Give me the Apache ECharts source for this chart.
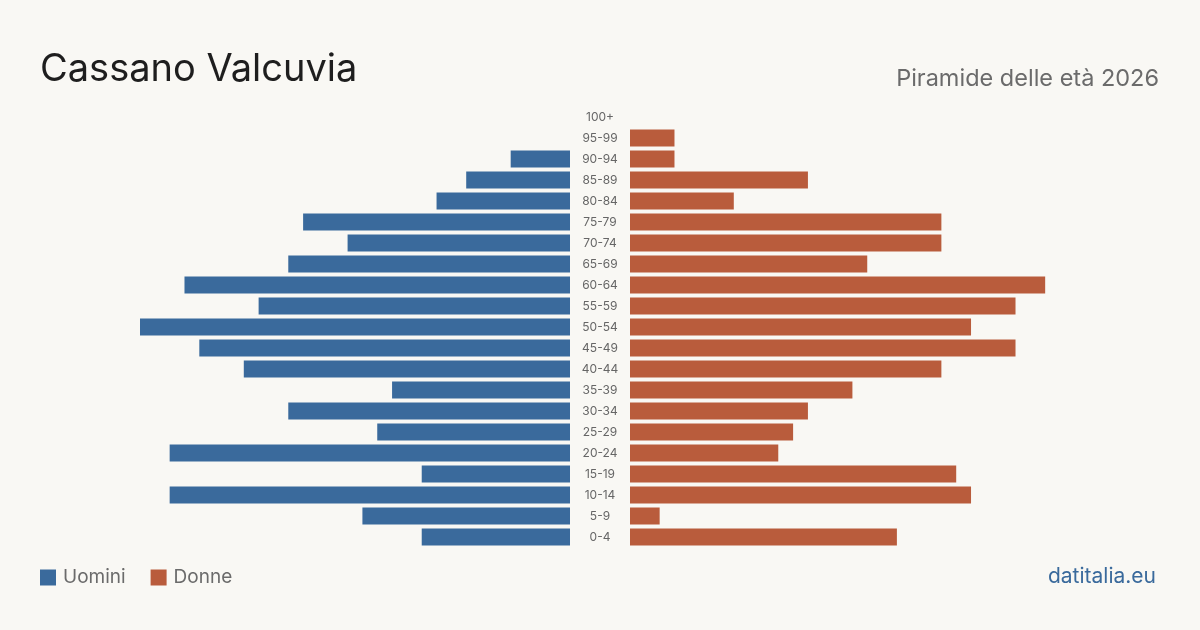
<!DOCTYPE html>
<html>
<head>
<meta charset="utf-8">
<script src="https://cdn.jsdelivr.net/npm/echarts@6/dist/echarts.min.js"></script>
<style>
  html, body { margin: 0; padding: 0; background: #f9f8f4; }
  #chart { width: 1200px; height: 630px; }
</style>
</head>
<body>
<div id="chart"></div>
<script>
// fasce d'età, dal basso verso l'alto
const ageGroups = ['0-4', '5-9', '10-14', '15-19', '20-24', '25-29', '30-34', '35-39', '40-44', '45-49',
  '50-54', '55-59', '60-64', '65-69', '70-74', '75-79', '80-84', '85-89', '90-94', '95-99', '100+']
const uomini = [10, 14, 27, 10, 27, 13, 19, 12, 22, 25, 29, 21, 26, 19, 15, 18, 9, 7, 4, 0, 0]
const donne = [18, 2, 23, 22, 10, 11, 12, 15, 21, 26, 23, 26, 28, 16, 21, 21, 7, 12, 3, 3, 0]
const axisMax = 29

const font = 'Inter, "Noto Sans", sans-serif'
const chart = echarts.init(document.getElementById('chart'))

chart.setOption({
  backgroundColor: '#f9f8f4',
  animation: false,
  title: [
    {
      text: 'Cassano Valcuvia',
      left: 35, top: 46,
      textStyle: { fontFamily: font, fontSize: 38, fontWeight: 'normal', color: '#1e1e1e' }
    },
    {
      text: 'Piramide delle età 2026',
      right: 36, top: 62,
      textStyle: { fontFamily: font, fontSize: 23.5, fontWeight: 'normal', color: '#6b6b6b' }
    },
    {
      text: 'datitalia.eu',
      right: 39, top: 561,
      textStyle: { fontFamily: font, fontSize: 21, fontWeight: 'normal', color: '#3a6a9c' }
    }
  ],
  legend: {
    left: 35, top: 563,
    itemWidth: 16, itemHeight: 16, itemGap: 25,
    icon: 'rect',
    textStyle: { fontFamily: font, fontSize: 19, color: '#6b6b6b', padding: [0, 0, 0, 2] },
    data: ['Uomini', 'Donne']
  },
  grid: [
    { left: 140, width: 430, top: 106.5, height: 441 },
    { left: 630, width: 430, top: 106.5, height: 441 }
  ],
  xAxis: [
    { gridIndex: 0, type: 'value', inverse: true, min: 0, max: axisMax, show: false },
    { gridIndex: 1, type: 'value', min: 0, max: axisMax, show: false }
  ],
  yAxis: [
    {
      gridIndex: 0, type: 'category', position: 'right', data: ageGroups,
      axisLine: { show: false }, axisTick: { show: false },
      axisLabel: { margin: 30, align: 'center', fontFamily: font, fontSize: 12, color: '#666' }
    },
    {
      gridIndex: 1, type: 'category', data: ageGroups,
      axisLine: { show: false }, axisTick: { show: false }, axisLabel: { show: false }
    }
  ],
  series: [
    {
      name: 'Uomini', type: 'bar', xAxisIndex: 0, yAxisIndex: 0,
      data: uomini, barWidth: 17,
      itemStyle: { color: '#3a6a9c' }
    },
    {
      name: 'Donne', type: 'bar', xAxisIndex: 1, yAxisIndex: 1,
      data: donne, barWidth: 17,
      itemStyle: { color: '#b95c3c' }
    }
  ]
})
</script>
</body>
</html>
